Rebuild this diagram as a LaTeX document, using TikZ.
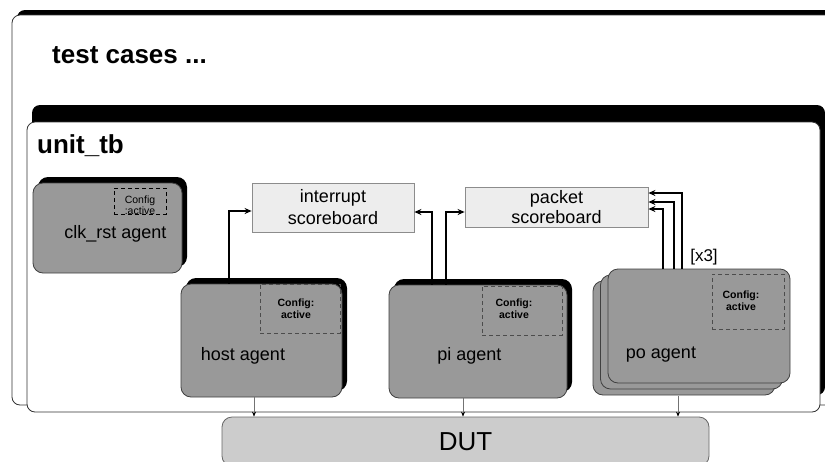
\documentclass[tikz,border=0pt]{standalone}
\usepackage{fontspec}
\setmainfont{Liberation Sans}
\usetikzlibrary{shapes,shadows,arrows.meta}

\begin{document}
\begin{tikzpicture}[x=1pt, y=-1pt, >={Stealth[length=7pt,width=6pt]},
      every node/.append style={inner sep=0pt,font=\fontsize{18}{22}\selectfont},
      link/.style={->, line width=1.6pt, black},
      tap/.style={-{Stealth[length=5pt,width=4pt,black]}, draw=black!55, line width=0.6pt}]
    \tikzstyle{frame} = [draw=black!80, fill=white, rounded corners=8pt, line width=0.8pt]
    \tikzstyle{heading} = [anchor=base west, font=\fontsize{26}{30}\selectfont\bfseries]
    \tikzstyle{agentbox} = [draw=black!75, fill=black!40, rounded corners=10pt, line width=0.8pt]
    \tikzstyle{agent} = [agentbox, drop shadow={shadow xshift=5pt, shadow yshift=6pt, fill=black, opacity=1}]
    \tikzstyle{stack} = [agentbox, double copy shadow={shadow xshift=-7.5pt, shadow yshift=-6pt}]
    \tikzstyle{cfg} = [draw=black!70, dashed, dash pattern=on 4pt off 3pt, line width=0.8pt]
    \tikzstyle{cfgtext} = [align=center, font=\fontsize{10.5}{12}\selectfont\bfseries]
    \tikzstyle{agentlabel} = [anchor=base]
    \tikzstyle{board} = [draw=black!45, fill=black!7, line width=0.8pt, align=center]
    \useasboundingbox (0,0) rectangle (825,461);
    \clip (0,0) rectangle (825,461);

    \node[frame, drop shadow={shadow xshift=5pt, shadow yshift=5pt, fill=black, opacity=1},
      minimum width=833, minimum height=390] (tests) at (428.5,210) {};
    \node[heading] (testslabel) at (52,63) {test cases ...};

    \node[frame, drop shadow={shadow xshift=5pt, shadow yshift=17pt, fill=black, opacity=1},
      minimum width=793, minimum height=290] (unittb) at (423.5,267) {};
    \node[heading] (unittblabel) at (37,153) {unit\_tb};

    \node[agent, minimum width=149, minimum height=90] (clk) at (107.5,228) {};
    \node[cfg, draw=black, minimum width=52, minimum height=26] (clkcfg) at (140,201) {};
    \node[align=center, font=\fontsize{10.5}{11}\selectfont] (clkcfgtext) at (140,205) {Config\\:active};
    \node[agentlabel] (clklabel) at (115.5,238) {clk\_rst agent};

    \node[agent, minimum width=161, minimum height=113] (host) at (261.5,340.5) {};
    \node[cfg, minimum width=80, minimum height=49] (hostcfg) at (300,308.5) {};
    \node[cfgtext] (hostcfgtext) at (296,309) {Config:\\active};
    \node[agentlabel] (hostlabel) at (243,360) {host agent};

    \node[agent, minimum width=178, minimum height=113] (pi) at (478,341.5) {};
    \node[cfg, minimum width=80, minimum height=49] (picfg) at (522,310.5) {};
    \node[cfgtext] (picfgtext) at (514,309) {Config:\\active};
    \node[agentlabel] (pilabel) at (469.5,360) {pi agent};

    \node[stack, minimum width=182, minimum height=114] (po) at (699,326) {};
    \node[cfg, minimum width=72, minimum height=55] (pocfg) at (748,301.5) {};
    \node[cfgtext] (pocfgtext) at (741,300.5) {Config:\\active};
    \node[agentlabel] (polabel) at (661,358) {po agent};

    \node[board, minimum width=162, minimum height=49] (intsb) at (333,207.5) {interrupt\\scoreboard};
    \node[board, minimum width=183, minimum height=40, font=\fontsize{18}{20}\selectfont] (pktsb) at (556.5,207) {packet\\scoreboard};

    \draw[link] ([xshift=-32.5pt]host.north) |- ([yshift=-3.5pt]intsb.west);
    \draw[link] ([xshift=-46pt]pi.north) |- ([yshift=-4.5pt]intsb.east);
    \draw[link] ([xshift=-32pt]pi.north) |- ([yshift=-5pt]pktsb.west);
    \foreach \dx/\dy in {-36/-2, -25/5, -17/14}
      \draw[link] ([xshift=\dx pt]po.north) |- ([yshift=\dy pt]pktsb.east);
    \node[agentlabel, font=\fontsize{17}{20}\selectfont] (times) at (704,261) {[x3]};

    \node[draw=black!60, fill=black!20, rounded corners=10pt, line width=0.8pt,
      minimum width=487, minimum height=49, font=\fontsize{26}{30}\selectfont] (dut) at (465.5,441.5) {DUT};

    \draw[tap] ([xshift=-7.5pt]host.south) -- ([xshift=-7.5pt]host.south |- dut.north);
    \draw[tap] ([xshift=-15pt]pi.south) -- ([xshift=-15pt]pi.south |- dut.north);
    \draw[tap] ([xshift=-21pt,yshift=-13pt]po.south) -- ([xshift=-21pt]po.south |- dut.north);
  \end{tikzpicture}
\end{document}
